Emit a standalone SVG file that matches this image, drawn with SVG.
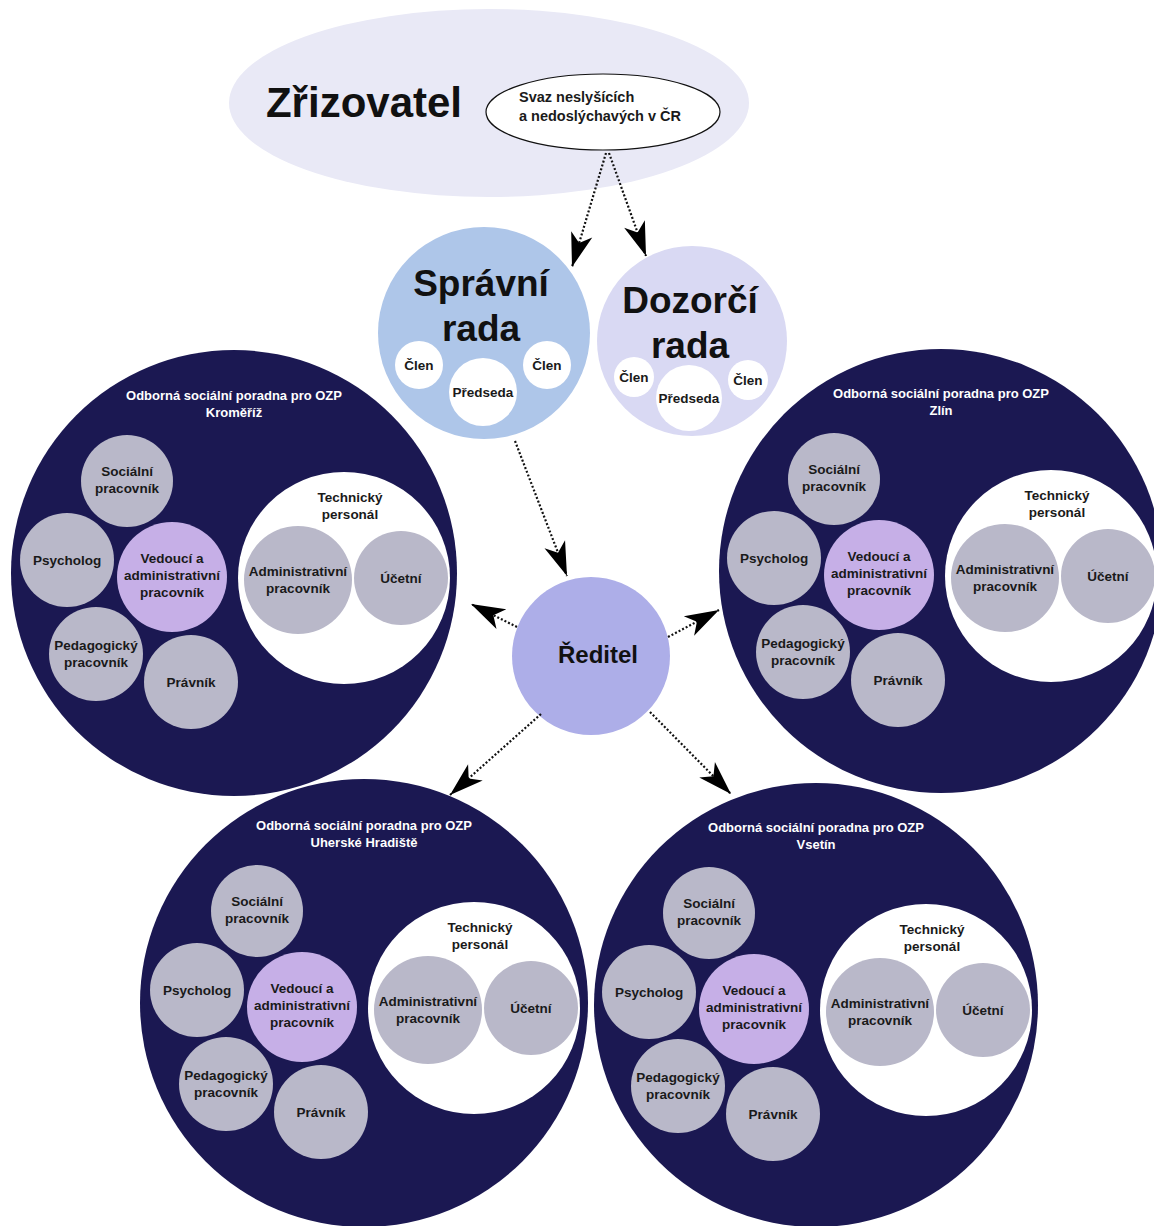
<svg xmlns="http://www.w3.org/2000/svg" width="1154" height="1226" viewBox="0 0 1154 1226">
<style>
text{font-family:"Liberation Sans",Arial,sans-serif;font-weight:bold;fill:#1a1a1a;text-anchor:middle}
.office{fill:#1b1852}
.staff{fill:#b9b8c9}
.lead{fill:#c6afe7}
.white{fill:#ffffff}
.lbl{font-size:13.5px}
.ttl{font-size:13px;fill:#ffffff}
.conn{fill:none;stroke:#111;stroke-width:2.2;stroke-dasharray:2 2}
</style>
<defs>
<marker id="ah" markerUnits="userSpaceOnUse" markerWidth="38" markerHeight="26" viewBox="-36 -13 38 26" refX="0" refY="0" orient="auto">
<path d="M0,0 L-34,-11 L-25,0 L-34,11 Z" fill="#000"/>
</marker>
</defs>
<rect width="1154" height="1226" fill="#ffffff"/>

<g id="zrizovatel">
<ellipse cx="489" cy="103" rx="260" ry="94" fill="#e9e9f6"/>
<text x="364" y="117" style="font-size:42px;fill:#111">Zřizovatel</text>
<g id="svaz">
<ellipse cx="603" cy="112" rx="117" ry="38" fill="#ffffff" stroke="#111" stroke-width="1.2"/>
<text x="519" y="102" style="font-size:14.5px;text-anchor:start">Svaz neslyšících</text>
<text x="519" y="121" style="font-size:14.5px;text-anchor:start">a nedoslýchavých v ČR</text>
</g>
</g>

<g id="spravni-rada">
<circle cx="484" cy="333" r="106" fill="#aec6e9"/>
<text x="481" y="296" style="font-size:37px;fill:#111">Správní</text>
<text x="481" y="341" style="font-size:37px;fill:#111">rada</text>
<circle cx="419" cy="365" r="24" class="white"/>
<text x="419" y="370" style="font-size:13.5px">Člen</text>
<circle cx="547" cy="365" r="24" class="white"/>
<text x="547" y="370" style="font-size:13.5px">Člen</text>
<circle cx="483" cy="392" r="34" class="white"/>
<text x="483" y="397" style="font-size:13.5px">Předseda</text>
</g>

<g id="dozorci-rada">
<circle cx="692" cy="341" r="95" fill="#d9d9f3"/>
<text x="690" y="313" style="font-size:37px;fill:#111">Dozorčí</text>
<text x="690" y="358" style="font-size:37px;fill:#111">rada</text>
<circle cx="634" cy="377" r="20" class="white"/>
<text x="634" y="382" style="font-size:13.5px">Člen</text>
<circle cx="748" cy="380" r="20" class="white"/>
<text x="748" y="385" style="font-size:13.5px">Člen</text>
<circle cx="689" cy="398" r="33" class="white"/>
<text x="689" y="403" style="font-size:13.5px">Předseda</text>
</g>

<g id="reditel">
<circle cx="591" cy="656" r="79" fill="#adaee8"/>
<text x="598" y="663" style="font-size:24px;fill:#111">Ředitel</text>
</g>

<g id="office-kromeriz" transform="translate(234,573)">
<circle r="223" class="office"/>
<text x="0" y="-173" class="ttl">Odborná sociální poradna pro OZP</text>
<text x="0" y="-156" class="ttl">Kroměříž</text>
<circle cx="-107" cy="-92" r="46" class="staff"/>
<text x="-107" y="-97" class="lbl">Sociální</text><text x="-107" y="-80" class="lbl">pracovník</text>
<circle cx="-167" cy="-13" r="47" class="staff"/>
<text x="-167" y="-8" class="lbl">Psycholog</text>
<circle cx="-62" cy="4" r="55" class="lead"/>
<text x="-62" y="-10" class="lbl">Vedoucí a</text><text x="-62" y="7" class="lbl">administrativní</text><text x="-62" y="24" class="lbl">pracovník</text>
<circle cx="-138" cy="81" r="47" class="staff"/>
<text x="-138" y="77" class="lbl">Pedagogický</text><text x="-138" y="94" class="lbl">pracovník</text>
<circle cx="-43" cy="109" r="47" class="staff"/>
<text x="-43" y="114" class="lbl">Právník</text>
<circle cx="110" cy="5" r="106" class="white"/>
<text x="116" y="-71" class="lbl">Technický</text><text x="116" y="-54" class="lbl">personál</text>
<circle cx="64" cy="7" r="54" class="staff"/>
<text x="64" y="3" class="lbl">Administrativní</text><text x="64" y="20" class="lbl">pracovník</text>
<circle cx="167" cy="5" r="47" class="staff"/>
<text x="167" y="10" class="lbl">Účetní</text>
</g>

<g id="office-zlin" transform="translate(941,571)">
<circle r="222" class="office"/>
<text x="0" y="-173" class="ttl">Odborná sociální poradna pro OZP</text>
<text x="0" y="-156" class="ttl">Zlín</text>
<circle cx="-107" cy="-92" r="46" class="staff"/>
<text x="-107" y="-97" class="lbl">Sociální</text><text x="-107" y="-80" class="lbl">pracovník</text>
<circle cx="-167" cy="-13" r="47" class="staff"/>
<text x="-167" y="-8" class="lbl">Psycholog</text>
<circle cx="-62" cy="4" r="55" class="lead"/>
<text x="-62" y="-10" class="lbl">Vedoucí a</text><text x="-62" y="7" class="lbl">administrativní</text><text x="-62" y="24" class="lbl">pracovník</text>
<circle cx="-138" cy="81" r="47" class="staff"/>
<text x="-138" y="77" class="lbl">Pedagogický</text><text x="-138" y="94" class="lbl">pracovník</text>
<circle cx="-43" cy="109" r="47" class="staff"/>
<text x="-43" y="114" class="lbl">Právník</text>
<circle cx="110" cy="5" r="106" class="white"/>
<text x="116" y="-71" class="lbl">Technický</text><text x="116" y="-54" class="lbl">personál</text>
<circle cx="64" cy="7" r="54" class="staff"/>
<text x="64" y="3" class="lbl">Administrativní</text><text x="64" y="20" class="lbl">pracovník</text>
<circle cx="167" cy="5" r="47" class="staff"/>
<text x="167" y="10" class="lbl">Účetní</text>
</g>

<g id="office-uherske-hradiste" transform="translate(364,1003)">
<circle r="224" class="office"/>
<text x="0" y="-173" class="ttl">Odborná sociální poradna pro OZP</text>
<text x="0" y="-156" class="ttl">Uherské Hradiště</text>
<circle cx="-107" cy="-92" r="46" class="staff"/>
<text x="-107" y="-97" class="lbl">Sociální</text><text x="-107" y="-80" class="lbl">pracovník</text>
<circle cx="-167" cy="-13" r="47" class="staff"/>
<text x="-167" y="-8" class="lbl">Psycholog</text>
<circle cx="-62" cy="4" r="55" class="lead"/>
<text x="-62" y="-10" class="lbl">Vedoucí a</text><text x="-62" y="7" class="lbl">administrativní</text><text x="-62" y="24" class="lbl">pracovník</text>
<circle cx="-138" cy="81" r="47" class="staff"/>
<text x="-138" y="77" class="lbl">Pedagogický</text><text x="-138" y="94" class="lbl">pracovník</text>
<circle cx="-43" cy="109" r="47" class="staff"/>
<text x="-43" y="114" class="lbl">Právník</text>
<circle cx="110" cy="5" r="106" class="white"/>
<text x="116" y="-71" class="lbl">Technický</text><text x="116" y="-54" class="lbl">personál</text>
<circle cx="64" cy="7" r="54" class="staff"/>
<text x="64" y="3" class="lbl">Administrativní</text><text x="64" y="20" class="lbl">pracovník</text>
<circle cx="167" cy="5" r="47" class="staff"/>
<text x="167" y="10" class="lbl">Účetní</text>
</g>

<g id="office-vsetin" transform="translate(816,1005)">
<circle r="222" class="office"/>
<text x="0" y="-173" class="ttl">Odborná sociální poradna pro OZP</text>
<text x="0" y="-156" class="ttl">Vsetín</text>
<circle cx="-107" cy="-92" r="46" class="staff"/>
<text x="-107" y="-97" class="lbl">Sociální</text><text x="-107" y="-80" class="lbl">pracovník</text>
<circle cx="-167" cy="-13" r="47" class="staff"/>
<text x="-167" y="-8" class="lbl">Psycholog</text>
<circle cx="-62" cy="4" r="55" class="lead"/>
<text x="-62" y="-10" class="lbl">Vedoucí a</text><text x="-62" y="7" class="lbl">administrativní</text><text x="-62" y="24" class="lbl">pracovník</text>
<circle cx="-138" cy="81" r="47" class="staff"/>
<text x="-138" y="77" class="lbl">Pedagogický</text><text x="-138" y="94" class="lbl">pracovník</text>
<circle cx="-43" cy="109" r="47" class="staff"/>
<text x="-43" y="114" class="lbl">Právník</text>
<circle cx="110" cy="5" r="106" class="white"/>
<text x="116" y="-71" class="lbl">Technický</text><text x="116" y="-54" class="lbl">personál</text>
<circle cx="64" cy="7" r="54" class="staff"/>
<text x="64" y="3" class="lbl">Administrativní</text><text x="64" y="20" class="lbl">pracovník</text>
<circle cx="167" cy="5" r="47" class="staff"/>
<text x="167" y="10" class="lbl">Účetní</text>
</g>

<g id="connectors">
<line x1="606" y1="153" x2="572" y2="267" class="conn" marker-end="url(#ah)"/>
<line x1="609" y1="153" x2="646" y2="256" class="conn" marker-end="url(#ah)"/>
<line x1="515" y1="441" x2="567" y2="576" class="conn" marker-end="url(#ah)"/>
<line x1="517" y1="627" x2="471" y2="604" class="conn" marker-end="url(#ah)"/>
<line x1="668" y1="637" x2="719" y2="610" class="conn" marker-end="url(#ah)"/>
<line x1="541" y1="714" x2="450" y2="795" class="conn" marker-end="url(#ah)"/>
<line x1="650" y1="712" x2="731" y2="794" class="conn" marker-end="url(#ah)"/>
</g>
</svg>
